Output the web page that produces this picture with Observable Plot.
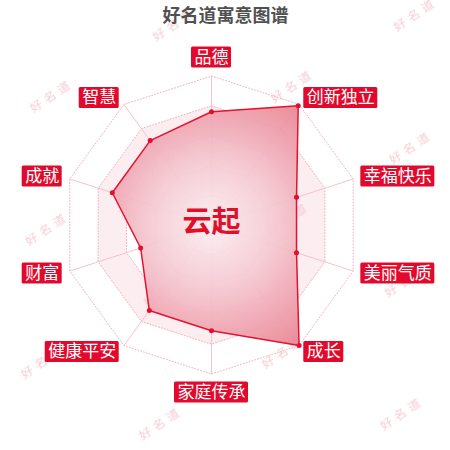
<!DOCTYPE html>
<html><head><meta charset="utf-8">
<script src="https://cdn.jsdelivr.net/npm/d3@7"></script>
<script src="https://cdn.jsdelivr.net/npm/@observablehq/plot@0.6"></script>
<style>body{margin:0;background:#fff}</style>
</head><body><div id="chart"></div>
<script>
const title = "好名道寓意图谱";
const centerName = "云起";
const dims = ["品德","创新独立","幸福快乐","美丽气质","成长","家庭传承","健康平安","财富","成就","智慧"];
const scores = [76, 99, 60, 60, 100, 71, 71, 50, 70, 70];
const maxScore = 100;
const levels = [1.0, 0.8, 0.6, 0.4, 0.2];
const watermark = "好名道";

const W = 450, H = 450, CX = 211, CY = 224.5, R = 149;
const n = dims.length;
const ang = i => 2 * Math.PI * i / n;
const polar = (i, r) => ({x: r * Math.sin(ang(i)), y: r * Math.cos(ang(i))});

const pts = scores.map((v, i) => ({dim: dims[i], v, ...polar(i, v / maxScore)}));
const spokes = dims.map((d, i) => ({dim: d, ...polar(i, 1)}));
const bandFill = ["#ffffff", "#fcedf0", "#ffffff", "#fcedf0", "#ffffff"];

const FS = 17, PADX = 3, BH = 21, LR = 157 / R;
const labels = dims.map((d, i) => {
  const a = polar(i, LR);
  const w = (d.length * FS + 2 * PADX) / R, h = BH / R;
  const s = Math.sin(ang(i));
  let cx, cy;
  if (Math.abs(s) < 1e-6) { cx = a.x; cy = a.y + (a.y > 0 ? h / 2 : -h / 2); }
  else { cx = a.x + (s > 0 ? w / 2 : -w / 2); cy = a.y; }
  return {dim: d, cx, cy, x1: cx - w / 2, x2: cx + w / 2, y1: cy - h / 2, y2: cy + h / 2};
});

const ringMarks = levels.map((l, k) => Plot.line(dims.map((d, i) => polar(i, l)), {
  x: "x", y: "y", curve: "linear-closed", fill: bandFill[k],
  stroke: "#eeb3bf", strokeWidth: 1, strokeDasharray: "1,2"
}));
const gridMarks = [
  ...ringMarks,
  Plot.link(spokes, {x1: 0, y1: 0, x2: "x", y2: "y", stroke: "#f2c4cd", strokeWidth: 1})
];

const plot = Plot.plot({
  width: W, height: H, margin: 0,
  x: {domain: [-CX / R, (W - CX) / R], range: [0, W], axis: null},
  y: {domain: [(CY - H) / R, CY / R], range: [H, 0], axis: null},
  style: {fontFamily: '"Noto Sans CJK SC", "Noto Sans", sans-serif', background: "#fff"},
  marks: [
    ...gridMarks,
    Plot.line(pts, {x: "x", y: "y", curve: "linear-closed", fill: "url(#areaGrad)",
      fillOpacity: 0.92, stroke: "#e3132f", strokeWidth: 1.5}),
    Plot.dot(pts, {x: "x", y: "y", r: 2.5, fill: "#e10f2d", stroke: null}),
    Plot.rect(labels, {x1: "x1", x2: "x2", y1: "y1", y2: "y2", fill: "#e20a2c", rx: 1.5}),
    Plot.text(labels, {x: "cx", y: "cy", text: "dim", fill: "#fff", fontSize: FS}),
    Plot.text([centerName], {x: 0, y: 0, text: d => d, fontSize: 29, fontWeight: "bold", fill: "#e0102a", dy: -2}),
    Plot.text([title], {frameAnchor: "top", dy: 8.8, lineAnchor: "top", text: d => d,
      fontSize: 18, fontWeight: "bold", fill: "#505050"})
  ]
});

document.getElementById("chart").appendChild(plot);

// gradient + watermark pattern (styling)
const ns = "http://www.w3.org/2000/svg";
const markEls = [...plot.children].filter(c => c.tagName.toLowerCase() !== "style");
const areaEl = markEls[gridMarks.length];
const defs = document.createElementNS(ns, "defs");
defs.innerHTML = `
<radialGradient id="areaGrad" gradientUnits="userSpaceOnUse" cx="${CX}" cy="${CY}" r="${R}">
  <stop offset="0" stop-color="#fbeef1"/>
  <stop offset="0.35" stop-color="#f6d0d8"/>
  <stop offset="0.7" stop-color="#efa6b3"/>
  <stop offset="1" stop-color="#e9808f"/>
</radialGradient>
<pattern id="wm" patternUnits="userSpaceOnUse" width="241" height="133"
  patternTransform="matrix(1,-0.0415,-0.0338,1,116.1,-5.5)">
  <text x="60" y="33" transform="rotate(-33 60 33)" text-anchor="middle" dominant-baseline="middle"
    font-size="12" letter-spacing="4" fill="#f5cdd4">${watermark}</text>
  <text x="180.5" y="99.5" transform="rotate(-33 180.5 99.5)" text-anchor="middle" dominant-baseline="middle"
    font-size="12" letter-spacing="4" fill="#f5cdd4">${watermark}</text>
</pattern>`;
plot.insertBefore(defs, plot.firstChild);
const wmRect = document.createElementNS(ns, "rect");
wmRect.setAttribute("width", W); wmRect.setAttribute("height", H);
wmRect.setAttribute("fill", "url(#wm)");
plot.insertBefore(wmRect, areaEl);
</script></body></html>
